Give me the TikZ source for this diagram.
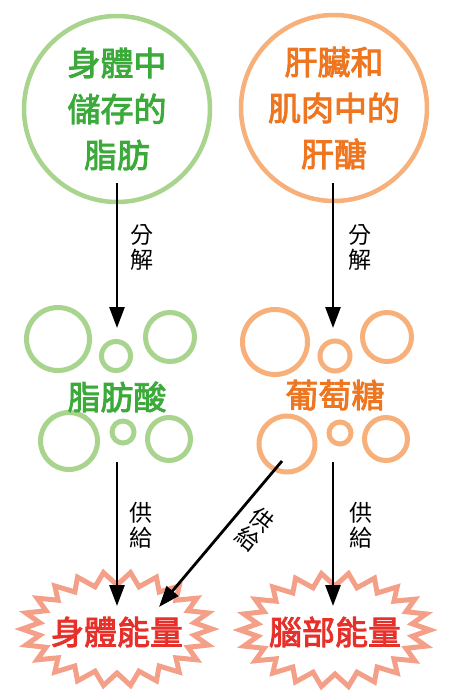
\documentclass[tikz,border=0pt]{standalone}
\usepackage{fontspec}
\newfontfamily\cjk{Noto Sans CJK TC}
\newfontfamily\cjkm{Noto Sans CJK TC}[FakeBold=2.6]
\usetikzlibrary{arrows.meta}
\definecolor{lgreen}{HTML}{A9D48E}
\definecolor{dgreen}{HTML}{3CAA3A}
\definecolor{lorange}{HTML}{F7B07A}
\definecolor{dorange}{HTML}{EE7620}
\definecolor{salmon}{HTML}{F4A088}
\definecolor{red}{HTML}{E63029}
\tikzset{
  bigcirc/.style={circle, draw, line width=4.5pt, minimum size=186pt, inner sep=0pt, align=center,
     font=\cjkm\fontsize{33}{46}\selectfont},
  bubble/.style={line width=5pt},
  midtext/.style={font=\cjkm\fontsize{33}{40}\selectfont},
  lbl/.style={font=\cjk\fontsize{23}{25}\selectfont, align=center, text=black},
  arr/.style={line width=2.8pt, -{Triangle[length=21pt,width=15pt]}},
  burst/.style={line width=5pt, draw=salmon, fill=white, line join=miter},
  bursttext/.style={font=\cjkm\fontsize{33}{40}\selectfont, text=red}
}
\begin{document}
\begin{tikzpicture}[x=1pt,y=-1pt]
\useasboundingbox[fill=white] (0,0) rectangle (450,699);
% top circles
\node[bigcirc, draw=lgreen, text=dgreen] (fat) at (117,109) {身體中\\儲存的\\脂肪};
\node[bigcirc, draw=lorange, text=dorange] (gly) at (334,108) {肝臟和\\肌肉中的\\肝醣};
% middle bubbles left
\draw[bubble,lgreen] (58,339) circle (31.5);
\draw[bubble,lgreen] (116,356) circle (14.5);
\draw[bubble,lgreen] (170,337) circle (24.5);
\draw[bubble,lgreen] (69,441) circle (28.5);
\draw[bubble,lgreen] (123,432) circle (11);
\draw[bubble,lgreen] (169,439) circle (21.5);
\node[midtext, text=dgreen] (fa) at (117,397) {脂肪酸};
% middle bubbles right
\draw[bubble,lorange] (275,342) circle (32.5);
\draw[bubble,lorange] (335,356) circle (15);
\draw[bubble,lorange] (387,337) circle (24.5);
\draw[bubble,lorange] (287,444) circle (28);
\draw[bubble,lorange] (340,433) circle (11);
\draw[bubble,lorange] (386,439) circle (21.5);
\node[midtext, text=dorange] (glu) at (335,395) {葡萄糖};
% bursts
\draw[burst] plot[samples at={0,...,43}] ({117+ifthenelse(mod(\x,2)==0,95,78)*cos(\x*360/44)},{629+ifthenelse(mod(\x,2)==0,57,44)*sin(\x*360/44)}) -- cycle;
\draw[burst] plot[samples at={0,...,43}] ({335+ifthenelse(mod(\x,2)==0,95,78)*cos(\x*360/44)},{630+ifthenelse(mod(\x,2)==0,57,44)*sin(\x*360/44)}) -- cycle;
\node[bursttext] (body) at (117,632) {身體能量};
\node[bursttext] (brain) at (335,632) {腦部能量};
% arrow endpoints
\coordinate (a1s) at (117,183);
\coordinate (a1e) at (117,328);
\coordinate (a2s) at (333,183);
\coordinate (a2e) at (333,328);
\coordinate (a3s) at (117,462);
\coordinate (a3e) at (117,606);
\coordinate (a4s) at (333,462);
\coordinate (a4e) at (333,606);
\coordinate (a5s) at (282,461);
\coordinate (a5e) at (159,607);
\draw[arr] (a1s) -- (a1e);
\draw[arr] (a2s) -- (a2e);
\draw[arr] (a3s) -- (a3e);
\draw[arr] (a4s) -- (a4e);
\draw[arr] (a5s) -- (a5e);
% labels
\node[lbl] (l1) at (142,247) {分\\解};
\node[lbl] (l2) at (360,247) {分\\解};
\node[lbl] (l3) at (141,525) {供\\給};
\node[lbl] (l4) at (361,525) {供\\給};
\node[lbl, rotate=-38, inner sep=0pt] (l5a) at (262,520) {供};
\node[lbl, rotate=-38, inner sep=0pt] (l5b) at (248,539) {給};
\end{tikzpicture}
\end{document}
